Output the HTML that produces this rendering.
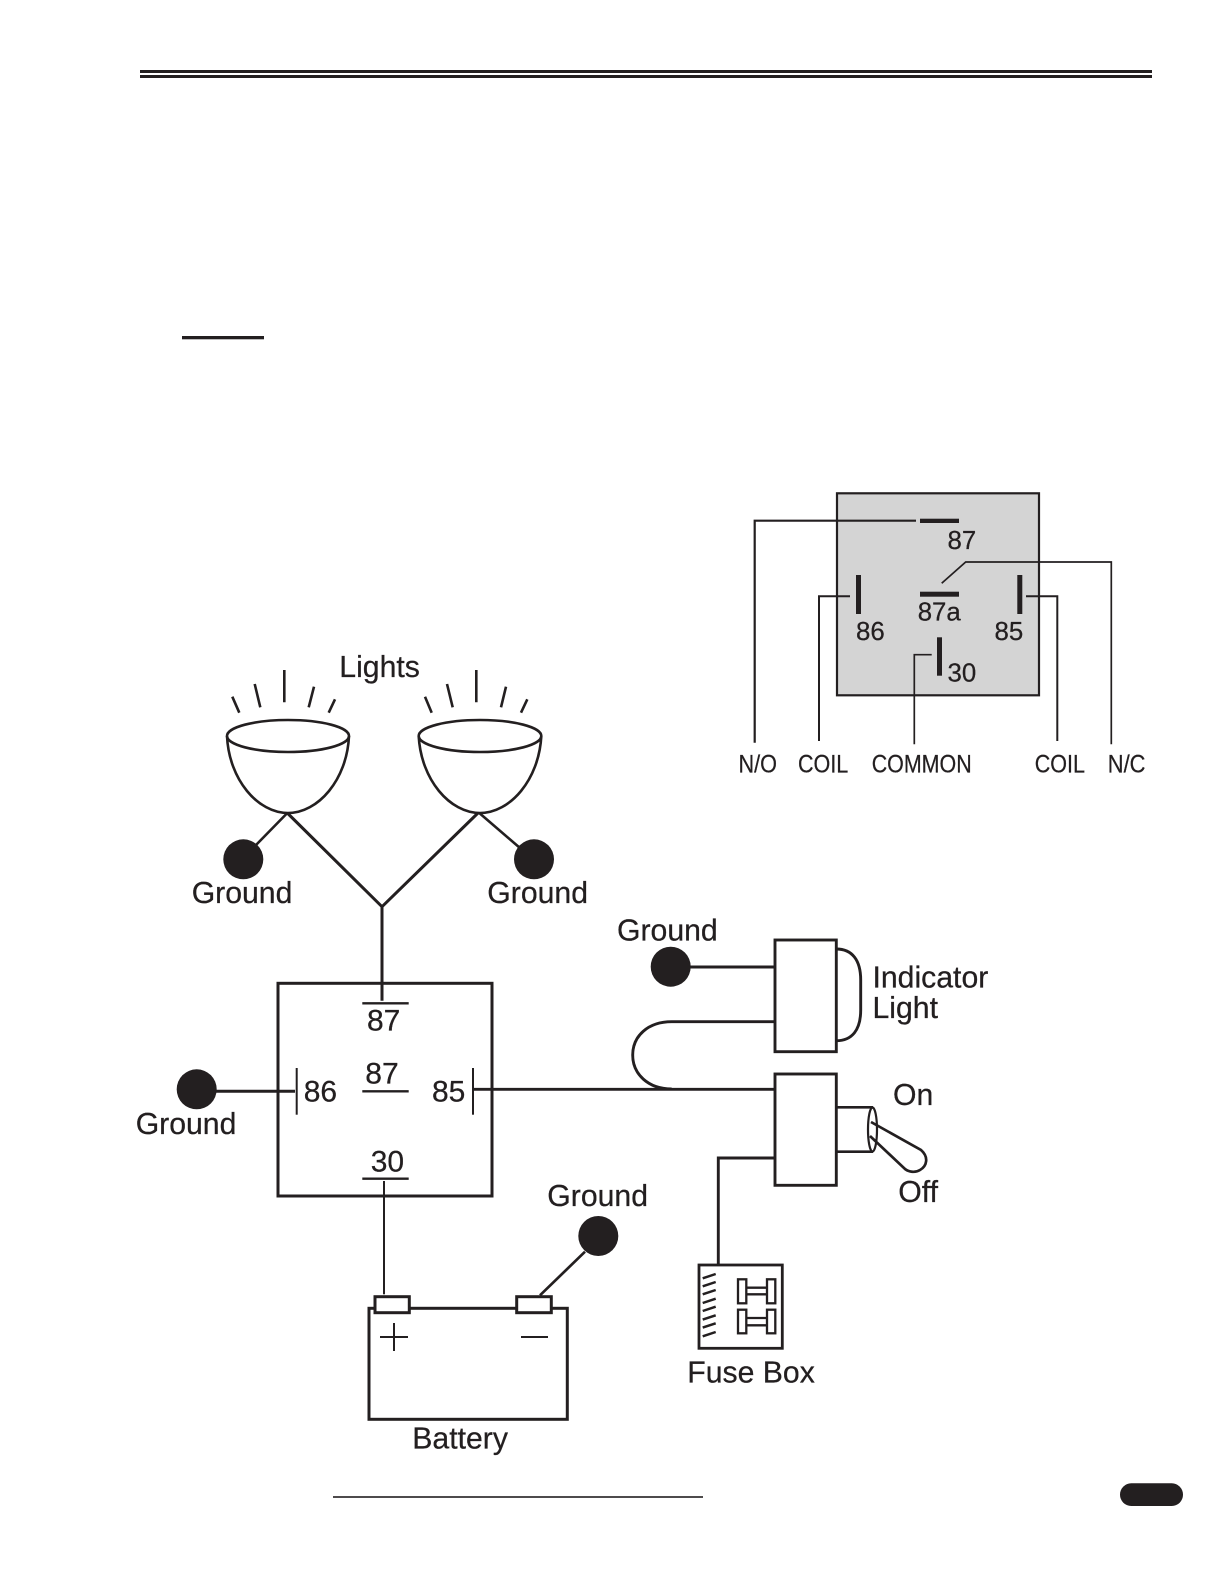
<!DOCTYPE html>
<html>
<head>
<meta charset="utf-8">
<style>
html,body{margin:0;padding:0;background:#fff;}
svg{display:block;}
text{font-family:"Liberation Sans",sans-serif;fill:#231f20;stroke:#231f20;stroke-width:.25px;}
.l{font-size:30.2px;}
.n{font-size:30px;}
.s{font-size:25.8px;}
.c{font-size:25px;}
.w{fill:none;stroke:#231f20;}
</style>
</head>
<body>
<svg width="1224" height="1584" viewBox="0 0 1224 1584" xmlns="http://www.w3.org/2000/svg">
<rect width="1224" height="1584" fill="#fff"/>
<rect x="140" y="70" width="1012" height="3" fill="#231f20"/>
<rect x="140" y="75" width="1012" height="3" fill="#231f20"/>
<rect x="182" y="336" width="82" height="3.3" fill="#231f20"/>
<rect x="333" y="1496.2" width="370" height="1.6" fill="#231f20"/>
<rect x="1120" y="1483.3" width="63" height="22.7" rx="11.3" fill="#231f20"/>

<!-- relay pinout -->
<rect x="837" y="493.3" width="202" height="202" fill="#d4d4d4" stroke="#231f20" stroke-width="2.2"/>
<g class="w" stroke-width="2">
<path d="M916 520.7H754.7V742.7" stroke-width="2.2"/>
<path d="M941.7 583.3L965.7 562H1111.3V744.3" stroke-width="1.7"/>
<path d="M850 596.3H819V741"/>
<path d="M1026 596.3H1057.3V741"/>
<path d="M931.7 654.7H914.3V744.3" stroke-width="1.7"/>
</g>
<rect x="920" y="518.7" width="39" height="4.3" fill="#231f20"/>
<rect x="920" y="591.7" width="39" height="5" fill="#231f20"/>
<rect x="856" y="575" width="5" height="39" fill="#231f20"/>
<rect x="1017.3" y="575" width="5" height="39" fill="#231f20"/>
<rect x="937" y="637.3" width="5" height="38.4" fill="#231f20"/>
<text class="s" x="947.5" y="549">87</text>
<text class="s" x="917.7" y="620.7">87a</text>
<text class="s" x="856" y="640">86</text>
<text class="s" x="994.5" y="640">85</text>
<text class="s" x="947.5" y="681.7">30</text>
<text class="c" x="738.5" y="772.7" textLength="38.5" lengthAdjust="spacingAndGlyphs">N/O</text>
<text class="c" x="798" y="772.7" textLength="50.3" lengthAdjust="spacingAndGlyphs">COIL</text>
<text class="c" x="871.7" y="772.7" textLength="100" lengthAdjust="spacingAndGlyphs">COMMON</text>
<text class="c" x="1034.7" y="772.7" textLength="50.3" lengthAdjust="spacingAndGlyphs">COIL</text>
<text class="c" x="1107.8" y="772.7" textLength="37.7" lengthAdjust="spacingAndGlyphs">N/C</text>

<!-- lights -->
<text class="l" x="339.3" y="677">Lights</text>
<g class="w" stroke-width="2.6">
<path d="M232.3 696.7L239.3 712.7M254.7 684L260.3 707.3M284.3 670V702.3M314 686.7L308.7 707.3M335 699.3L328.7 712.7"/>
<path d="M425 696.7L431.7 712.7M447 684L452.7 707.3M476.3 670V702.3M506 686.7L501 707.3M527.3 699.3L521 712.7"/>
<ellipse cx="288" cy="736" rx="61" ry="16"/>
<path d="M227 736C229 780 258 813 288 813C318 813 347 780 349 736"/>
<ellipse cx="480" cy="736" rx="61.3" ry="16"/>
<path d="M418.7 736C421 780 450 813 480 813C510 813 539 780 541.3 736"/>
<path d="M287.3 813L256 845M479.3 813L520 848"/>
<path d="M287.3 813L382 906.7L478 813M382 906.7V1000.7" stroke-width="3"/>
</g>
<circle cx="243.3" cy="859.3" r="20" fill="#231f20"/>
<circle cx="534" cy="859.3" r="20" fill="#231f20"/>
<text class="l" x="191.7" y="903">Ground</text>
<text class="l" x="487.3" y="903">Ground</text>

<!-- relay -->
<rect x="278" y="983.3" width="214" height="212.7" fill="none" stroke="#231f20" stroke-width="3"/>
<g class="w" stroke-width="2.4">
<path d="M362.3 1003.3H408.7"/>
<path d="M362.3 1091.3H408.7"/>
<path d="M362.3 1178.7H408.7"/>
<path d="M296.7 1068V1114.7" stroke-width="2"/>
<path d="M473 1068V1114.7" stroke-width="2"/>
<path d="M195 1091.3H295" stroke-width="3"/>
<path d="M384 1181V1294.3" stroke-width="2"/>
</g>
<circle cx="196.7" cy="1089.3" r="20" fill="#231f20"/>
<text class="n" x="367" y="1030.7">87</text>
<text class="n" x="365.3" y="1083.3">87</text>
<text class="n" x="303.7" y="1101.7">86</text>
<text class="n" x="432" y="1101.7">85</text>
<text class="n" x="370.7" y="1171.7">30</text>
<text class="l" x="135.7" y="1134">Ground</text>

<!-- indicator and switch -->
<g class="w" stroke-width="2.9">
<rect x="775" y="940" width="61.3" height="111.7"/>
<rect x="775" y="1074" width="61.3" height="111.3"/>
<path d="M690 967H775"/>
<path d="M836.3 949C852 949 860.7 960 860.7 980V1010C860.7 1030 852 1040.7 836.3 1040.7"/>
<path d="M775 1021.7H671.7C648 1021.7 632.7 1036 632.7 1055C632.7 1074 648 1089 671.7 1089"/>
<path d="M473 1089.3H775"/>
<path d="M775 1158H718.3V1264"/>
<path d="M836.3 1107.3H873M836.3 1151.7H873" stroke-width="2.6"/>
<ellipse cx="872.5" cy="1129.5" rx="4.5" ry="22" stroke-width="2.2"/>
<path d="M871 1122L921 1150C929 1157 927 1166 920 1170C915 1173 909 1172 905 1169L870 1136" stroke-width="2.7"/>
</g>
<circle cx="670.7" cy="966.7" r="20" fill="#231f20"/>
<text class="l" x="617" y="940.7">Ground</text>
<text class="l" x="872.5" y="987.7">Indicator</text>
<text class="l" x="872.5" y="1018">Light</text>
<text class="l" x="893" y="1105">On</text>
<text class="l" x="898.3" y="1202">Off</text>

<!-- battery -->
<rect x="369" y="1308.3" width="198.3" height="111" fill="none" stroke="#231f20" stroke-width="3"/>
<rect x="375" y="1296.7" width="34.3" height="16" fill="#fff" stroke="#231f20" stroke-width="3"/>
<rect x="516.7" y="1296.7" width="34.6" height="16" fill="#fff" stroke="#231f20" stroke-width="3"/>
<g class="w" stroke-width="2">
<path d="M380 1337H408M394 1323V1351"/>
<path d="M521 1337H548"/>
<path d="M585 1251.7L540 1295.3" stroke-width="2.7"/>
</g>
<circle cx="598.3" cy="1236" r="20" fill="#231f20"/>
<text class="l" x="547.3" y="1206">Ground</text>
<text class="l" x="412.3" y="1448.7">Battery</text>

<!-- fuse box -->
<rect x="699" y="1265" width="83.3" height="83.3" fill="none" stroke="#231f20" stroke-width="2.8"/>
<g class="w" stroke-width="2.3">
<path d="M702.7 1278.3L715.7 1274M702.7 1286.3L715.7 1282M702.7 1294.3L715.7 1290M702.7 1303L715.7 1298.7M702.7 1311L715.7 1306.7M702.7 1319.6L715.7 1315.3M702.7 1327.6L715.7 1323.3M702.7 1336.3L715.7 1332" stroke-width="2.5"/>
<rect x="738" y="1279.3" width="8.3" height="24"/>
<rect x="767" y="1279.3" width="8.3" height="24"/>
<rect x="738" y="1309.7" width="8.3" height="23.6"/>
<rect x="767" y="1309.7" width="8.3" height="23.6"/>
<path d="M746.3 1287.7H767M746.3 1294.3H767M746.3 1318H767M746.3 1325.3H767"/>
</g>
<text class="l" x="687.3" y="1382.7">Fuse Box</text>
</svg>
</body>
</html>
